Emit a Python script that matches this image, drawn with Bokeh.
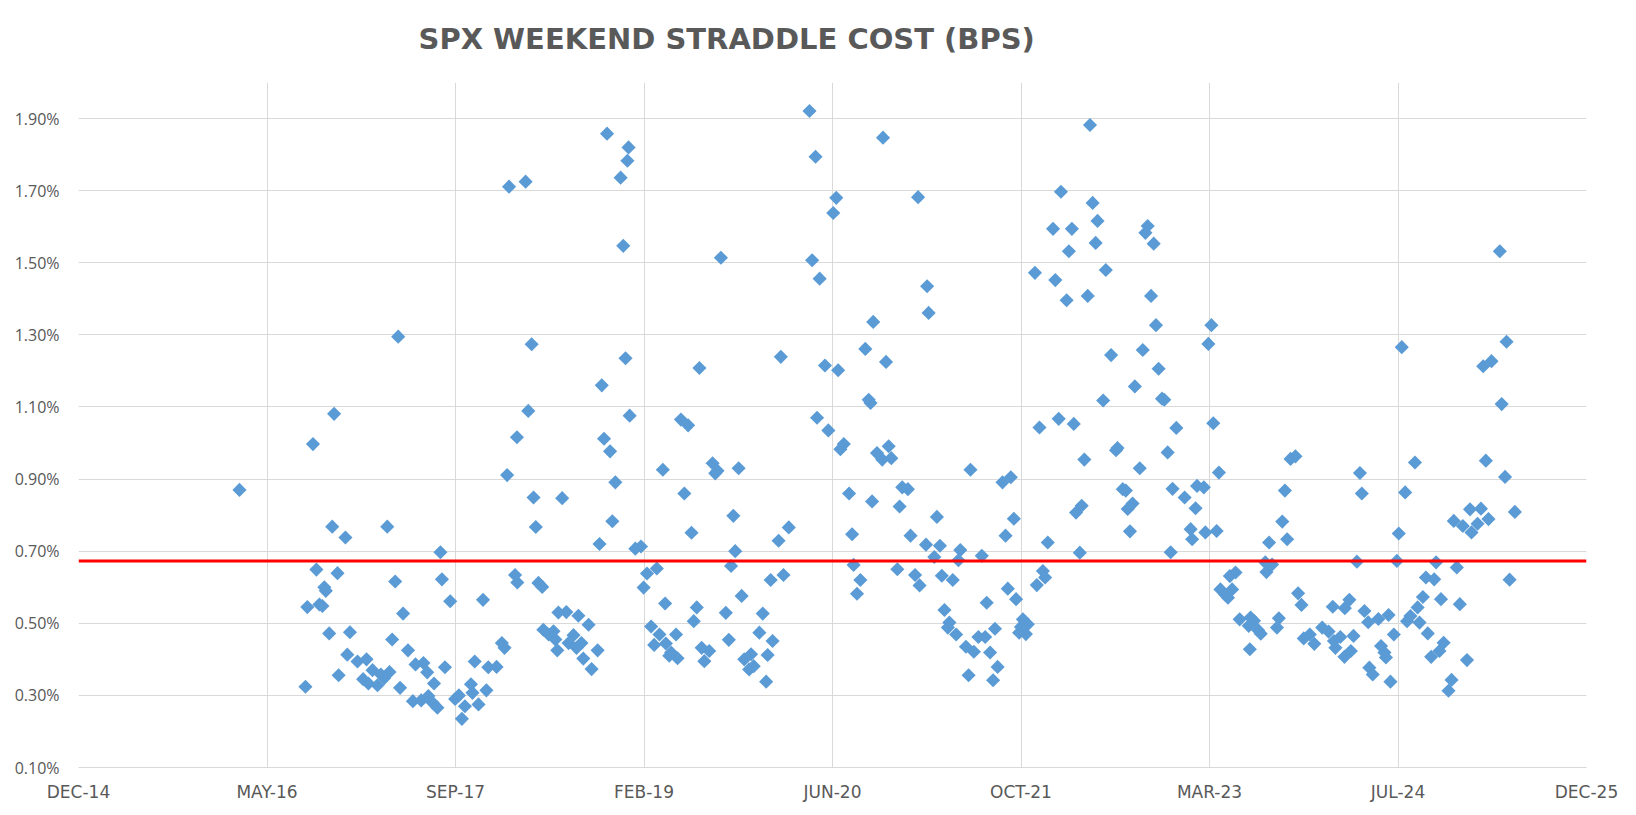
import pandas as pd
from math import pi
from bokeh.plotting import figure
from bokeh.models import (ColumnDataSource, FixedTicker, PrintfTickFormatter,
                          CustomJSTickFormatter, Span, Range1d, Title)
from bokeh.embed import file_html
from bokeh.resources import INLINE

title_text = "SPX WEEKEND STRADDLE COST (BPS)"
x_tick_dates = ["2014-12-27", "2016-05-10", "2017-09-22", "2019-02-04", "2020-06-18",
                "2021-10-31", "2023-03-15", "2024-07-27", "2025-12-09"]
x_tick_labels = ["DEC-14", "MAY-16", "SEP-17", "FEB-19", "JUN-20",
                 "OCT-21", "MAR-23", "JUL-24", "DEC-25"]
y_ticks = [0.10, 0.30, 0.50, 0.70, 0.90, 1.10, 1.30, 1.50, 1.70, 1.90]
y_min, y_max = 0.10, 2.00
average_level = 0.673  # red reference line (%)

# ---- observations: date, straddle cost (%) ----
dates_2016_17 = ["2016-02-27", "2016-08-20", "2016-08-25", "2016-09-09", "2016-09-18", "2016-09-26",
                 "2016-10-04", "2016-10-09", "2016-10-13", "2016-10-22", "2016-10-30", "2016-11-04",
                 "2016-11-13", "2016-11-16", "2016-12-04", "2016-12-09", "2016-12-16", "2017-01-05",
                 "2017-01-20", "2017-01-29", "2017-02-03", "2017-02-14", "2017-02-27", "2017-03-08",
                 "2017-03-17", "2017-03-25", "2017-03-31", "2017-04-07", "2017-04-15", "2017-04-23",
                 "2017-04-28", "2017-05-06", "2017-05-19", "2017-06-01", "2017-06-08", "2017-06-23",
                 "2017-06-29", "2017-07-09", "2017-07-12", "2017-07-23", "2017-07-27", "2017-08-05",
                 "2017-08-13", "2017-08-17", "2017-08-25", "2017-09-08", "2017-09-21"]
vals_2016_17 = [0.870, 0.324, 0.545, 0.997, 0.649, 0.552,
                0.548, 0.600, 0.590, 0.472, 0.768, 1.081,
                0.639, 0.356, 0.738, 0.413, 0.475, 0.394,
                0.345, 0.400, 0.333, 0.370, 0.328, 0.358,
                0.348, 0.768, 0.365, 0.455, 0.616, 1.295,
                0.321, 0.527, 0.425, 0.284, 0.386, 0.286,
                0.390, 0.364, 0.298, 0.280, 0.333, 0.266,
                0.697, 0.622, 0.378, 0.561, 0.290]

dates_2017_18 = ["2017-10-01", "2017-10-09", "2017-10-17", "2017-11-02", "2017-11-06", "2017-11-12",
                 "2017-11-22", "2017-12-04", "2017-12-13", "2017-12-18", "2018-01-09", "2018-01-23",
                 "2018-01-30", "2018-02-06", "2018-02-11", "2018-02-27", "2018-03-04", "2018-03-05",
                 "2018-03-27", "2018-04-03", "2018-04-12", "2018-04-17", "2018-04-23", "2018-04-30",
                 "2018-05-10", "2018-05-13", "2018-05-27", "2018-06-09", "2018-06-14", "2018-06-19",
                 "2018-06-22", "2018-07-02", "2018-07-13", "2018-07-19", "2018-08-01", "2018-08-09",
                 "2018-08-14", "2018-08-22", "2018-08-27", "2018-09-10", "2018-09-18", "2018-10-04",
                 "2018-10-09", "2018-10-15", "2018-10-21", "2018-10-29", "2018-11-06", "2018-11-12",
                 "2018-11-20", "2018-12-04", "2018-12-11", "2018-12-17", "2018-12-22", "2018-12-25",
                 "2018-12-28"]
vals_2017_18 = [0.300, 0.235, 0.270, 0.331, 0.307, 0.394,
                0.275, 0.565, 0.314, 0.378, 0.379, 0.445,
                0.432, 0.911, 1.711, 0.634, 1.016, 0.613,
                1.725, 1.089, 1.274, 0.849, 0.767, 0.612,
                0.601, 0.482, 0.469, 0.478, 0.455, 0.425,
                0.530, 0.847, 0.531, 0.445, 0.467, 0.432,
                0.521, 0.445, 0.402, 0.496, 0.373, 0.425,
                0.720, 1.160, 1.012, 1.858, 0.977, 0.783,
                0.891, 1.736, 1.547, 1.235, 1.783, 1.820,
                1.076]

dates_2019_20 = ["2019-01-12", "2019-01-27", "2019-02-03", "2019-02-12", "2019-02-23", "2019-03-03",
                 "2019-03-10", "2019-03-17", "2019-03-26", "2019-04-01", "2019-04-03", "2019-04-12",
                 "2019-04-17", "2019-04-30", "2019-05-04", "2019-05-13", "2019-05-22", "2019-06-01",
                 "2019-06-10", "2019-06-16", "2019-06-24", "2019-07-01", "2019-07-07", "2019-07-14",
                 "2019-07-27", "2019-08-05", "2019-08-12", "2019-08-18", "2019-08-27", "2019-09-09",
                 "2019-09-17", "2019-09-23", "2019-09-29", "2019-10-04", "2019-10-13", "2019-10-21",
                 "2019-10-28", "2019-11-10", "2019-11-15", "2019-11-22", "2019-12-07", "2019-12-16",
                 "2019-12-25", "2019-12-29", "2020-01-06", "2020-01-11", "2020-01-27", "2020-02-02",
                 "2020-02-09", "2020-02-23", "2020-04-18", "2020-04-25", "2020-05-04", "2020-05-08",
                 "2020-05-15", "2020-05-29", "2020-06-07", "2020-06-20", "2020-06-28", "2020-07-03",
                 "2020-07-09", "2020-07-18", "2020-08-01", "2020-08-09", "2020-08-13", "2020-08-22",
                 "2020-08-31", "2020-09-13", "2020-09-22", "2020-09-27", "2020-10-01", "2020-10-04",
                 "2020-10-14", "2020-10-28", "2020-10-30", "2020-11-07", "2020-11-14", "2020-11-21",
                 "2020-12-07", "2020-12-13", "2020-12-20"]
vals_2019_20 = [0.707, 0.713, 0.599, 0.638, 0.491, 0.440,
                0.652, 0.469, 0.926, 0.555, 0.444, 0.410,
                0.419, 0.469, 0.403, 1.065, 0.860, 1.049,
                0.751, 0.506, 0.544, 1.208, 0.432, 0.395,
                0.423, 0.944, 0.916, 0.923, 1.514, 0.529,
                0.454, 0.659, 0.798, 0.700, 0.930, 0.576,
                0.400, 0.372, 0.414, 0.381, 0.474, 0.527,
                0.338, 0.412, 0.620, 0.451, 0.729, 1.239,
                0.634, 0.766, 1.921, 1.507, 1.794, 1.070,
                1.456, 1.215, 1.035, 1.638, 1.680, 1.202,
                0.983, 0.997, 0.860, 0.747, 0.662, 0.582,
                0.620, 1.261, 1.120, 1.111, 0.838, 1.336,
                0.972, 0.954, 1.847, 1.225, 0.991, 0.958,
                0.650, 0.824, 0.877]

dates_2021_22 = ["2021-01-04", "2021-01-11", "2021-01-23", "2021-01-31", "2021-02-04", "2021-02-21",
                 "2021-02-24", "2021-02-28", "2021-03-15", "2021-03-22", "2021-03-30", "2021-04-04",
                 "2021-04-11", "2021-04-20", "2021-04-24", "2021-05-03", "2021-05-12", "2021-05-18",
                 "2021-05-23", "2021-06-07", "2021-06-14", "2021-06-19", "2021-06-28", "2021-07-10",
                 "2021-07-19", "2021-07-28", "2021-08-01", "2021-08-10", "2021-08-18", "2021-08-23",
                 "2021-08-30", "2021-09-12", "2021-09-20", "2021-09-26", "2021-10-04", "2021-10-12",
                 "2021-10-18", "2021-10-26", "2021-10-31", "2021-11-05", "2021-11-13", "2021-11-18",
                 "2021-12-07", "2021-12-12", "2021-12-19", "2021-12-28", "2022-01-03", "2022-01-10",
                 "2022-01-24", "2022-01-30", "2022-02-08", "2022-02-14", "2022-03-01", "2022-03-07",
                 "2022-03-15", "2022-03-20", "2022-03-26", "2022-04-05", "2022-04-10", "2022-04-17",
                 "2022-04-26", "2022-05-02", "2022-05-09", "2022-05-17", "2022-05-22", "2022-06-06",
                 "2022-06-13", "2022-06-27", "2022-07-10", "2022-07-14", "2022-07-28", "2022-08-05",
                 "2022-08-10", "2022-08-16", "2022-08-23", "2022-08-29", "2022-09-11", "2022-09-19",
                 "2022-09-26", "2022-10-02", "2022-10-11", "2022-10-18", "2022-10-24", "2022-10-31",
                 "2022-11-09", "2022-11-15", "2022-11-24", "2022-12-02", "2022-12-07", "2022-12-17"]
vals_2021_22 = [0.872, 0.743, 0.634, 1.682, 0.605, 0.718,
                1.435, 1.361, 0.684, 0.795, 0.715, 0.632,
                0.537, 0.488, 0.502, 0.620, 0.469, 0.675,
                0.703, 0.435, 0.356, 0.926, 0.421, 0.462,
                0.687, 0.462, 0.557, 0.419, 0.342, 0.485,
                0.379, 0.891, 0.743, 0.596, 0.905, 0.790,
                0.567, 0.474, 0.490, 0.511, 0.470, 0.497,
                1.472, 0.606, 1.043, 0.645, 0.627, 0.724,
                1.594, 1.452, 1.067, 1.697, 1.396, 1.532,
                1.594, 1.053, 0.807, 0.696, 0.826, 0.954,
                1.408, 1.882, 1.666, 1.555, 1.616, 1.118,
                1.480, 1.244, 0.980, 0.986, 0.872, 0.868,
                0.817, 0.755, 0.832, 1.157, 0.930, 1.258,
                1.583, 1.602, 1.408, 1.553, 1.327, 1.206,
                1.123, 1.120, 0.974, 0.697, 0.873, 1.042]

dates_2023_25 = ["2023-01-08", "2023-01-24", "2023-01-28", "2023-02-06", "2023-02-10", "2023-02-28",
                 "2023-03-04", "2023-03-12", "2023-03-20", "2023-03-25", "2023-04-03", "2023-04-09",
                 "2023-04-13", "2023-04-26", "2023-05-03", "2023-05-08", "2023-05-14", "2023-05-23",
                 "2023-06-03", "2023-06-27", "2023-06-30", "2023-07-02", "2023-07-11", "2023-07-22",
                 "2023-07-29", "2023-08-10", "2023-08-13", "2023-08-20", "2023-08-28", "2023-09-10",
                 "2023-09-15", "2023-09-24", "2023-10-01", "2023-10-07", "2023-10-16", "2023-10-29",
                 "2023-11-05", "2023-11-14", "2023-11-20", "2023-12-06", "2023-12-18", "2024-01-08",
                 "2024-01-25", "2024-02-05", "2024-02-08", "2024-02-12", "2024-02-25", "2024-03-07",
                 "2024-03-08", "2024-03-20", "2024-03-24", "2024-03-31", "2024-04-09", "2024-04-17",
                 "2024-04-22", "2024-04-29", "2024-05-09", "2024-05-12", "2024-05-21", "2024-06-05",
                 "2024-06-12", "2024-06-21", "2024-06-25", "2024-07-02", "2024-07-07", "2024-07-16",
                 "2024-07-24", "2024-07-29", "2024-08-06", "2024-08-15", "2024-08-20", "2024-08-29",
                 "2024-09-10", "2024-09-17", "2024-09-22", "2024-10-01", "2024-10-09", "2024-10-14",
                 "2024-10-23", "2024-10-31", "2024-11-05", "2024-11-14", "2024-11-18", "2024-11-25",
                 "2024-12-08", "2024-12-16", "2024-12-22", "2024-12-30", "2025-01-07", "2025-01-15",
                 "2025-01-26", "2025-02-03", "2025-02-07", "2025-02-23", "2025-03-04", "2025-03-10",
                 "2025-03-17", "2025-03-24", "2025-04-01", "2025-04-23", "2025-04-28", "2025-05-07",
                 "2025-05-11", "2025-05-19", "2025-06-02"]
vals_2023_25 = [0.849, 0.761, 0.733, 0.819, 0.881, 0.877,
                0.752, 1.275, 1.327, 1.055, 0.756, 0.918,
                0.594, 0.579, 0.571, 0.631, 0.594, 0.641,
                0.511, 0.493, 0.428, 0.516, 0.507, 0.481,
                0.471, 0.669, 0.642, 0.724, 0.663, 0.488,
                0.514, 0.782, 0.868, 0.733, 0.956, 0.963,
                0.583, 0.551, 0.458, 0.469, 0.443, 0.488,
                0.477, 0.546, 0.451, 0.432, 0.462, 0.407,
                0.542, 0.565, 0.423, 0.465, 0.671, 0.917,
                0.860, 0.534, 0.503, 0.377, 0.358, 0.512,
                0.437, 0.419, 0.405, 0.523, 0.338, 0.469,
                0.673, 0.749, 1.266, 0.863, 0.506, 0.520,
                0.946, 0.544, 0.502, 0.573, 0.627, 0.472,
                0.407, 0.622, 0.669, 0.423, 0.567, 0.446,
                0.313, 0.343, 0.784, 0.655, 0.553, 0.770,
                0.398, 0.816, 0.752, 0.776, 0.818, 1.213,
                0.951, 0.789, 1.227, 1.532, 1.108, 0.906,
                1.281, 0.621, 0.809]

all_dates = dates_2016_17 + dates_2017_18 + dates_2019_20 + dates_2021_22 + dates_2023_25
all_vals = vals_2016_17 + vals_2017_18 + vals_2019_20 + vals_2021_22 + vals_2023_25

src = ColumnDataSource(dict(date=pd.to_datetime(all_dates), value=all_vals))

tick_ms = [pd.Timestamp(d).value / 1e6 for d in x_tick_dates]

TEXT = "#595959"
GRID = "#D9D9D9"

p = figure(width=1636, height=815, x_axis_type="datetime",
           x_range=Range1d(tick_ms[0], tick_ms[-1]),
           y_range=Range1d(y_min, y_max),
           output_backend="svg", toolbar_location=None,
           min_border_left=78, min_border_right=50,
           min_border_top=82, min_border_bottom=48)

p.outline_line_color = None
p.background_fill_color = "white"
p.border_fill_color = "white"

# chart title (outermost "above" panel)
p.title.text = title_text
p.title.text_font = "DejaVu Sans"
p.title.text_font_style = "bold"
p.title.text_font_size = "29px"
p.title.text_color = TEXT
p.title.align = "left"
p.title.offset = 340
p.title.vertical_align = "middle"

# blank spacer panel between the title and the plotting frame
p.add_layout(Title(text=" ", text_font_size="2px", standoff=17), "above")

# x axis
p.xaxis.ticker = FixedTicker(ticks=tick_ms)
p.xaxis.formatter = CustomJSTickFormatter(
    args=dict(tick_positions=tick_ms, tick_names=x_tick_labels),
    code="""
    let best = 0, bd = Infinity;
    for (let i = 0; i < tick_positions.length; i++) {
        const d = Math.abs(tick_positions[i] - tick);
        if (d < bd) { bd = d; best = i; }
    }
    return tick_names[best];
    """)
p.xaxis.axis_line_color = GRID
p.xaxis.major_tick_line_color = None
p.xaxis.minor_tick_line_color = None
p.xaxis.major_tick_out = 0
p.xaxis.major_tick_in = 0
p.xaxis.major_label_standoff = 14
p.xaxis.major_label_text_font = "DejaVu Sans"
p.xaxis.major_label_text_font_size = "17px"
p.xaxis.major_label_text_color = TEXT

# y axis
p.yaxis.ticker = FixedTicker(ticks=y_ticks)
p.yaxis.formatter = PrintfTickFormatter(format="%.2f%%")
p.yaxis.axis_line_color = None
p.yaxis.major_tick_line_color = None
p.yaxis.minor_tick_line_color = None
p.yaxis.major_tick_out = 0
p.yaxis.major_tick_in = 0
p.yaxis.major_label_standoff = 19
p.yaxis.major_label_text_font = "Open Sans"
p.yaxis.major_label_text_font_size = "16px"
p.yaxis.major_label_text_color = TEXT

p.xgrid.grid_line_color = GRID
p.ygrid.grid_line_color = GRID
p.xgrid.grid_line_width = 1
p.ygrid.grid_line_width = 1

p.scatter("date", "value", source=src, marker="square", size=10, angle=pi / 4,
          fill_color="#5B9BD5", line_color=None)

p.add_layout(Span(location=average_level, dimension="width",
                  line_color="#FF0000", line_width=3))

open("out.html", "w").write(file_html(p, INLINE))
